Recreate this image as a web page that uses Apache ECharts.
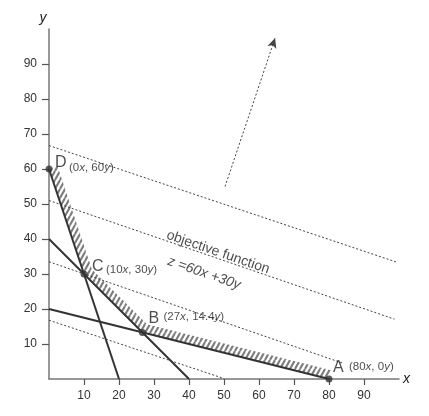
<!DOCTYPE html>
<html>
<head>
<meta charset="utf-8">
<script src="https://cdn.jsdelivr.net/npm/echarts@6/dist/echarts.min.js"></script>
<style>
html,body{margin:0;padding:0;background:#fff;}
#main{width:429px;height:416px;}
</style>
</head>
<body>
<div id="main"></div>
<script>
// 刻度
var tickValues = [10, 20, 30, 40, 50, 60, 70, 80, 90];

// 约束线 (起点 -> 终点)
var lineX0 = [0, 0, 0];
var lineY0 = [60, 40, 20];
var lineX1 = [20, 40, 80];
var lineY1 = [0, 0, 0];

// 目标函数等值线 (虚线)
var isoX0 = [0, 0, 0, 0];
var isoY0 = [66.7, 51, 33.5, 16.8];
var isoX1 = [99.3, 98.7, 84, 49.5];
var isoY1 = [33.4, 17.1, 4.5, 0.3];

// 方向箭头
var arrowFrom = [50.3, 55];
var arrowTo = [64.6, 97.4];

// 顶点 D C B A
var cornerName = ['D', 'C', 'B', 'A'];
var cornerX = [0, 10, 26.7, 80];
var cornerY = [60, 30, 13.3, 0];
var cornerText = ['(0x, 60y)', '(10x, 30y)', '(27x, 14.4y)', '(80x, 0y)'];

// 注释文字
var noteText = ['objective function', 'z =60x +30y'];
var noteX = [48.3, 44.3];
var noteY = [36.2, 30.2];

var font = 'Liberation Sans, Arial, Helvetica, sans-serif';
var dark = '#333';
var axisGray = '#777';

// 标签偏移 (像素)
var letterOffset = [[6, -6], [8, -7], [6, -14], [4, -11]];
var coordOffset = [[20, -1], [22, -4], [21, -16], [20, -12]];

// 斜线填充
function makeHatch(){
	var w = 5, h = 9;
	var c = document.createElement('canvas');
	c.width = w; c.height = h;
	var ctx = c.getContext('2d');
	ctx.strokeStyle = '#7d7d7d';
	ctx.lineWidth = 2.1;
	ctx.beginPath();
	for(var k = -1; k <= 1; k++){
		ctx.moveTo(k*w, h); ctx.lineTo(k*w + w, 0);
	}
	ctx.stroke();
	return c;
}
var hatch = {image: makeHatch(), repeat: 'repeat'};

function italicize(str){
	// x y 用斜体
	return str.replace(/([xy])/g, '{i|$1}');
}

var series = [];

// 可行域边界外侧的阴影带
series.push({
	type: 'custom',
	clip: false,
	silent: true,
	z: 1,
	data: [[0, 0]],
	renderItem: function(params, api){
		var pts = cornerX.map(function(x, i){ return api.coord([x, cornerY[i]]); });
		var w = 9;
		var normals = [];
		for(var i = 0; i < pts.length - 1; i++){
			var dx = pts[i+1][0] - pts[i][0], dy = pts[i+1][1] - pts[i][1];
			var len = Math.sqrt(dx*dx + dy*dy);
			normals.push([dy/len, -dx/len]);
		}
		var outer = [];
		for(var j = 0; j < pts.length; j++){
			var n, k = w;
			if(j == 0) n = normals[0];
			else if(j == pts.length - 1) n = normals[normals.length - 1];
			else {
				var a = normals[j-1], b = normals[j];
				var mx = a[0] + b[0], my = a[1] + b[1];
				var ml = Math.sqrt(mx*mx + my*my);
				n = [mx/ml, my/ml];
				k = w / (n[0]*a[0] + n[1]*a[1]);
			}
			outer.push([pts[j][0] + n[0]*k, pts[j][1] + n[1]*k]);
		}
		return {
			type: 'polygon',
			shape: {points: pts.concat(outer.reverse())},
			style: {fill: hatch, stroke: null}
		};
	}
});

// 虚线
for(var i = 0; i < isoX0.length; i++){
	series.push({
		type: 'line',
		silent: true,
		symbol: 'none',
		z: 2,
		lineStyle: {color: '#444', width: 1, type: [2, 2]},
		data: [[isoX0[i], isoY0[i]], [isoX1[i], isoY1[i]]]
	});
}

// 约束线
for(var i = 0; i < lineX0.length; i++){
	series.push({
		type: 'line',
		silent: true,
		symbol: 'none',
		z: 3,
		lineStyle: {color: dark, width: 2},
		data: [[lineX0[i], lineY0[i]], [lineX1[i], lineY1[i]]]
	});
}

// 箭头
series.push({
	type: 'line',
	silent: true,
	symbol: 'none',
	data: [],
	markLine: {
		silent: true,
		animation: false,
		symbol: ['none', 'arrow'],
		symbolSize: [7, 10],
		label: {show: false},
		lineStyle: {color: '#444', width: 1, type: [2, 2]},
		data: [[{coord: arrowFrom}, {coord: arrowTo}]]
	}
});

// 顶点 + 字母
series.push({
	type: 'scatter',
	silent: true,
	z: 5,
	symbolSize: 7,
	itemStyle: {color: dark},
	data: cornerX.map(function(x, i){
		return {
			value: [x, cornerY[i]],
			label: {
				show: true,
				formatter: cornerName[i],
				position: 'inside',
				align: 'left',
				verticalAlign: 'middle',
				offset: letterOffset[i],
				color: '#222',
				fontSize: 16,
				fontFamily: font
			}
		};
	})
});

// 坐标文字
series.push({
	type: 'scatter',
	silent: true,
	z: 5,
	symbolSize: 0,
	data: cornerX.map(function(x, i){
		return {
			value: [x, cornerY[i]],
			label: {
				show: true,
				formatter: italicize(cornerText[i]),
				position: 'inside',
				align: 'left',
				verticalAlign: 'middle',
				offset: coordOffset[i],
				color: '#222',
				fontSize: 11.5,
				fontFamily: font,
				rich: {i: {fontStyle: 'italic', fontSize: 11.5, fontFamily: font, color: '#222'}}
			}
		};
	})
});

// 注释
series.push({
	type: 'scatter',
	silent: true,
	z: 5,
	symbolSize: 0,
	data: noteX.map(function(x, i){
		return {
			value: [x, noteY[i]],
			label: {
				show: true,
				formatter: noteText[i],
				position: 'inside',
				align: 'center',
				verticalAlign: 'middle',
				rotate: -19,
				color: '#222',
				fontSize: 14,
				fontStyle: i == 0 ? 'normal' : 'italic',
				fontFamily: font
			}
		};
	})
});

var chart = echarts.init(document.getElementById('main'));
chart.setOption({
	animation: false,
	backgroundColor: '#fff',
	grid: {left: 49, right: 30, top: 29, bottom: 37},
	xAxis: {
		type: 'value',
		min: 0,
		max: 100,
		interval: 10,
		name: 'x',
		nameLocation: 'end',
		nameGap: 4,
		nameTextStyle: {fontStyle: 'italic', fontSize: 14, color: '#222', fontFamily: font},
		axisLine: {lineStyle: {color: axisGray, width: 1.5}},
		axisTick: {length: 6, customValues: tickValues, lineStyle: {color: '#555', width: 1.2}},
		axisLabel: {customValues: tickValues, color: '#333', fontSize: 12, fontFamily: font, margin: 11},
		splitLine: {show: false}
	},
	yAxis: {
		type: 'value',
		min: 0,
		max: 100,
		interval: 10,
		name: 'y',
		nameLocation: 'end',
		nameGap: 4,
		nameTextStyle: {fontStyle: 'italic', fontSize: 14, color: '#222', fontFamily: font, padding: [0, 12, 0, 0]},
		axisLine: {lineStyle: {color: axisGray, width: 1.5}},
		axisTick: {length: 7, customValues: tickValues, lineStyle: {color: '#555', width: 1.2}},
		axisLabel: {customValues: tickValues, color: '#333', fontSize: 12, fontFamily: font, margin: 12},
		splitLine: {show: false}
	},
	series: series
});
</script>
</body>
</html>
